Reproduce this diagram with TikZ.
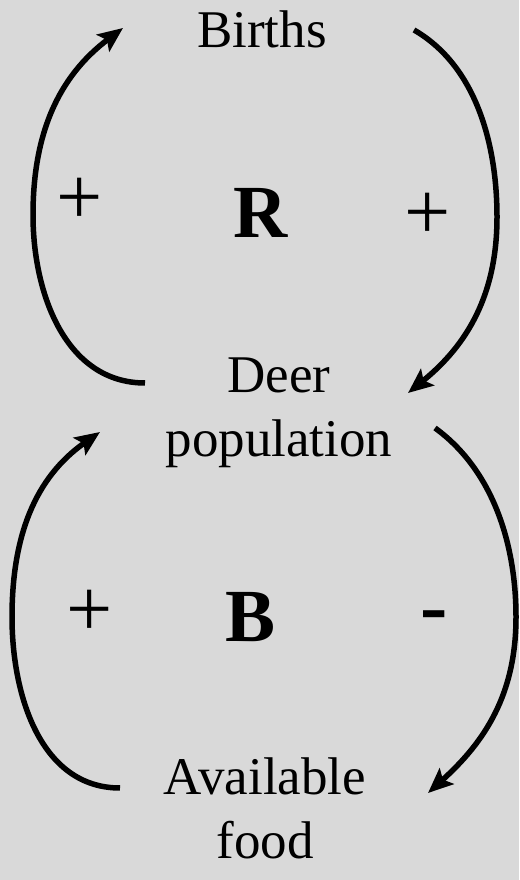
\documentclass[tikz,border=0pt]{standalone}
\usepackage{fontspec}
\setmainfont{Liberation Serif}
\usepackage{tikz}
\usetikzlibrary{arrows.meta,positioning}
\definecolor{figBack}{HTML}{D9D9D9}

\begin{document}
\begin{tikzpicture}[x=1pt, y=1pt,
  every node/.style={inner sep=0pt},
  var/.style={font=\fontsize{53}{64}\selectfont, align=center},
  loopname/.style={font=\fontsize{75}{80}\selectfont\bfseries},
  polarity/.style={font=\fontsize{82}{86}\selectfont},
  link/.style={line width=5.5pt, -{Stealth[length=25pt,width=21pt,inset=5pt]}},
]
\fill[figBack] (0,0) rectangle (519,880);
\useasboundingbox (0,0) rectangle (519,880);

% Variables
\node[var, anchor=base] (births) at (262,832) {Births};
\node[var] (deer) at (279,467) {Deer\\population};
\node[var] (food) at (265,72) {Available\\food};

% Loop names
\node[loopname, anchor=base] (rloop) at (261,642) {R};
\node[loopname, anchor=base] (bloop) at (251,238) {B};

% Polarities
\node[polarity] (plusbd) at (80,679) {+};
\node[polarity] (plusdb) at (428,664) {+};
\node[polarity] (plusfd) at (90,267) {+};
\node[polarity, font=\fontsize{82}{86}\selectfont\bfseries] (minusdf) at (434,258) {-};

% Arc ends
\coordinate (rtail) at (145,497);
\coordinate (rleft) at (33,665);
\coordinate (rhead) at (123,852);
\coordinate (rtail2) at (414,850);
\coordinate (rright) at (497,663);
\coordinate (rhead2) at (408,487);
\coordinate (btail) at (120,92);
\coordinate (bleft) at (12,263);
\coordinate (bhead) at (100,448);
\coordinate (btail2) at (435,452);
\coordinate (bright) at (516,263);
\coordinate (bhead2) at (428,87);

% Reinforcing loop
\draw[link] (rtail) to[out=180,in=270] (rleft) to[out=90,in=217] (rhead);
\draw[link] (rtail2) to[out=-30,in=90,looseness=0.9] (rright) to[out=270,in=39] (rhead2);

% Balancing loop
\draw[link] (btail) to[out=180,in=270] (bleft) to[out=90,in=215] (bhead);
\draw[link] (btail2) to[out=-36,in=90,looseness=0.9] (bright) to[out=270,in=42] (bhead2);

\end{tikzpicture}
\end{document}
